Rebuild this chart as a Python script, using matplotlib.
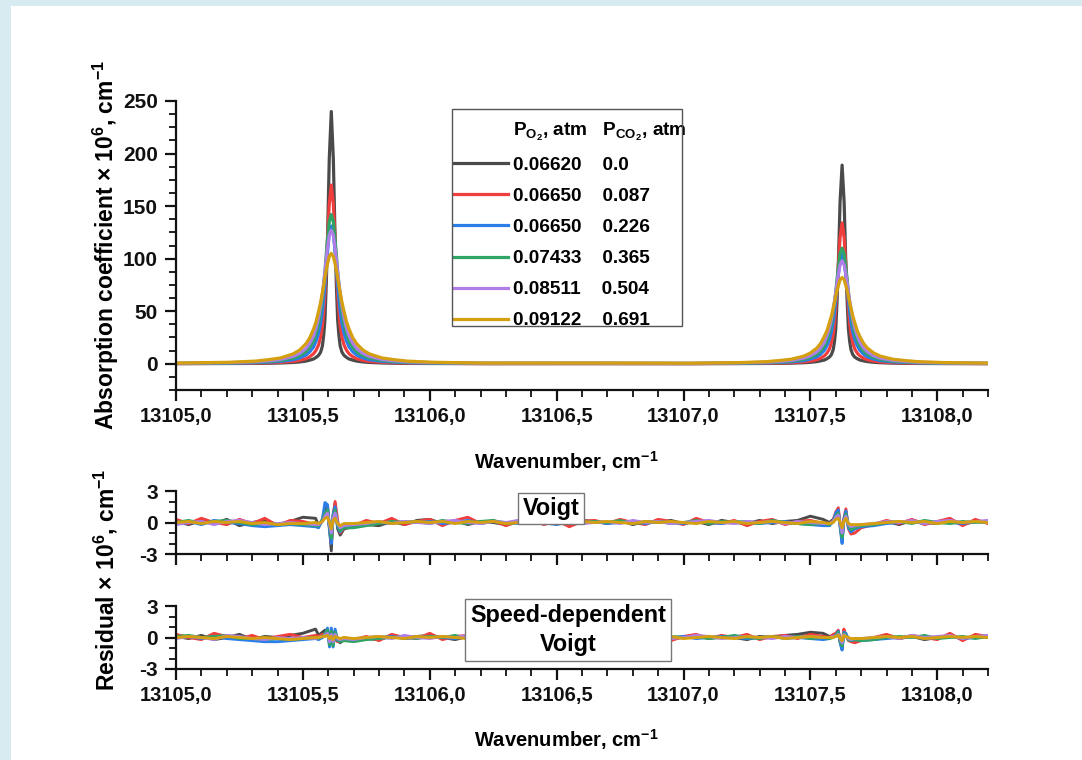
import numpy as np
import matplotlib
matplotlib.use("Agg")
import matplotlib.pyplot as plt
from matplotlib.ticker import MultipleLocator, FuncFormatter
from matplotlib.lines import Line2D
from matplotlib.patches import Rectangle

plt.rcParams.update({
    'font.family': ['Liberation Sans', 'DejaVu Sans'],
    'font.weight': 'bold',
    'mathtext.fontset': 'custom',
    'mathtext.rm': 'Liberation Sans:bold',
    'mathtext.it': 'Liberation Sans:bold',
    'mathtext.bf': 'Liberation Sans:bold',
    'axes.unicode_minus': False,
})

# ---------------- data ----------------
p_o2 = ["0.06620", "0.06650", "0.06650", "0.07433", "0.08511", "0.09122"]
p_co2 = ["0.0", "0.087", "0.226", "0.365", "0.504", "0.691"]
colors = ["#4a4a4a", "#f23d3d", "#2b7de9", "#2fa565", "#b07ee8", "#d4a00f"]

line_centers = [13105.612, 13107.625]
peak_offsets = [-0.6, -0.4, -0.3, -0.25, -0.2, -0.15, -0.125, -0.1, -0.085, -0.07, -0.06, -0.05,
                -0.042, -0.035, -0.03, -0.025, -0.02, -0.015, -0.008, 0.0,
                0.008, 0.015, 0.02, 0.025, 0.03, 0.035, 0.042, 0.05, 0.06, 0.07, 0.085, 0.1,
                0.125, 0.15, 0.2, 0.25, 0.3, 0.4, 0.6]
x_start, x_mid = 13105.0, 13106.62

far_vals = [0.1, 0.15, 0.25, 0.35, 0.45, 0.6]
mid_vals = [0.1, 0.15, 0.3, 0.4, 0.5, 0.7]

peak1 = [
    [0.1, 0.2, 0.3, 0.45, 0.7, 1.2, 1.7, 2.5, 3.4, 4.5, 6, 8, 11, 17, 27, 42, 75, 118, 195, 240,
     195, 118, 75, 42, 27, 17, 11, 8, 6, 4.5, 3.4, 2.5, 1.7, 1.2, 0.7, 0.45, 0.3, 0.2, 0.1],
    [0.15, 0.35, 0.6, 0.9, 1.3, 2.2, 3.2, 4.8, 6.6, 9.5, 12.8, 18, 25.5, 36, 49, 66, 92, 118, 152, 170,
     152, 118, 92, 66, 49, 36, 25.5, 18, 12.8, 9.5, 6.6, 4.8, 3.2, 2.2, 1.3, 0.9, 0.6, 0.35, 0.15],
    [0.25, 0.55, 1.0, 1.5, 2.2, 3.8, 5.5, 8.2, 11.3, 16, 21.5, 29, 38.5, 50, 62, 75, 91, 106, 124, 131,
     124, 106, 91, 75, 62, 50, 38.5, 29, 21.5, 16, 11.3, 8.2, 5.5, 3.8, 2.2, 1.5, 1.0, 0.55, 0.25],
    [0.35, 0.8, 1.4, 2.0, 3.1, 5.4, 7.7, 11.5, 15.5, 21.5, 28.5, 38, 49, 62, 75, 88, 104, 118, 135, 142,
     135, 118, 104, 88, 75, 62, 49, 38, 28.5, 21.5, 15.5, 11.5, 7.7, 5.4, 3.1, 2.0, 1.4, 0.8, 0.35],
    [0.47, 1.05, 1.9, 2.7, 4.1, 7, 9.8, 14.5, 19.5, 26.5, 34, 44, 55, 67, 77, 88, 99, 110, 122, 127,
     122, 110, 99, 88, 77, 67, 55, 44, 34, 26.5, 19.5, 14.5, 9.8, 7, 4.1, 2.7, 1.9, 1.05, 0.47],
    [0.65, 1.4, 2.5, 3.8, 5.5, 9.4, 13, 19, 24.6, 33, 40, 50, 58.5, 68, 74.5, 82, 89, 95, 102, 105,
     102, 95, 89, 82, 74.5, 68, 58.5, 50, 40, 33, 24.6, 19, 13, 9.4, 5.5, 3.8, 2.5, 1.4, 0.65],
]
peak2 = [
    [0.08, 0.15, 0.25, 0.35, 0.55, 0.95, 1.35, 2, 2.7, 3.5, 4.7, 6.3, 8.7, 13.4, 21, 33, 59, 93, 154, 189,
     154, 93, 59, 33, 21, 13.4, 8.7, 6.3, 4.7, 3.5, 2.7, 2, 1.35, 0.95, 0.55, 0.35, 0.25, 0.15, 0.08],
    [0.12, 0.27, 0.47, 0.7, 1.0, 1.7, 2.5, 3.8, 5.2, 7.5, 10, 14, 20, 28, 38.5, 52, 72, 93, 120, 134,
     120, 93, 72, 52, 38.5, 28, 20, 14, 10, 7.5, 5.2, 3.8, 2.5, 1.7, 1.0, 0.7, 0.47, 0.27, 0.12],
    [0.2, 0.44, 0.8, 1.2, 1.75, 3, 4.4, 6.5, 9, 12.7, 17, 23, 30.5, 40, 49, 60, 72, 84, 98, 104,
     98, 84, 72, 60, 49, 40, 30.5, 23, 17, 12.7, 9, 6.5, 4.4, 3, 1.75, 1.2, 0.8, 0.44, 0.2],
    [0.27, 0.62, 1.1, 1.55, 2.4, 4.2, 6, 8.9, 12, 16.7, 22, 29.5, 38, 48, 58, 68, 80.5, 91, 105, 110,
     105, 91, 80.5, 68, 58, 48, 38, 29.5, 22, 16.7, 12, 8.9, 6, 4.2, 2.4, 1.55, 1.1, 0.62, 0.27],
    [0.36, 0.8, 1.5, 2.1, 3.2, 5.4, 7.6, 11.2, 15, 20.5, 26.5, 34, 42.5, 52, 59.5, 68, 76.5, 85, 94, 98,
     94, 85, 76.5, 68, 59.5, 52, 42.5, 34, 26.5, 20.5, 15, 11.2, 7.6, 5.4, 3.2, 2.1, 1.5, 0.8, 0.36],
    [0.5, 1.1, 1.95, 3, 4.3, 7.3, 10.2, 14.8, 19.2, 26, 31.2, 39, 45.7, 53, 58.2, 64, 69.5, 74, 80, 82,
     80, 74, 69.5, 64, 58.2, 53, 45.7, 39, 31.2, 26, 19.2, 14.8, 10.2, 7.3, 4.3, 3, 1.95, 1.1, 0.5],
]

# residual wavenumber grid (coarse away from the lines, fine across them)
res_fine1 = [13105.562, 13105.577, 13105.587, 13105.597, 13105.605, 13105.612,
             13105.619, 13105.627, 13105.637, 13105.647, 13105.662]
res_fine2 = [13107.575, 13107.590, 13107.600, 13107.610, 13107.618, 13107.625,
             13107.632, 13107.640, 13107.650, 13107.660, 13107.675]
res_x = np.concatenate([np.linspace(13105.00, 13105.55, 12), res_fine1,
                        np.linspace(13105.70, 13107.55, 38), res_fine2,
                        np.linspace(13107.70, 13108.20, 11)])

res_voigt = [
    [0.1, -0.2, 0.2, -0.1, 0.3, -0.3, 0.0, 0.2, -0.2, 0.1, 0.5, 0.4,
     -0.3, 0.3, 1.2, 1.6, -0.5, -2.7, 0.6, 1.8, -0.6, -1.2, -0.6,
     -0.4, -0.2, -0.3, 0.1, -0.2, 0.2, 0.3, -0.1, 0.2, -0.2, 0.1, 0.0, -0.2, 0.2, -0.1, 0.1, 0.0, -0.2, 0.2,
     0.1, -0.1, 0.2, -0.2, 0.1, 0.0, 0.2, -0.1, 0.1, -0.2, 0.2, 0.0, -0.1, 0.2, -0.1, 0.1, 0.2, 0.6, 0.3,
     0.0, 0.3, 0.8, 1.0, -0.4, -1.7, 0.2, 0.9, -0.3, -0.7, -0.4,
     -0.3, -0.2, 0.1, -0.2, 0.2, 0.0, -0.1, 0.2, -0.2, 0.1, 0.0],
    [0.3, -0.1, 0.4, 0.0, -0.2, 0.3, -0.1, 0.4, -0.3, 0.2, 0.1, -0.2,
     -0.4, 0.2, 0.8, 1.2, -0.6, -1.9, 0.5, 2.0, 0.2, -1.0, -0.5,
     -0.3, 0.2, -0.1, 0.4, -0.2, 0.1, 0.3, -0.3, 0.2, 0.5, -0.1, 0.2, -0.3, 0.1, 0.3, -0.2, 0.2, -0.4, 0.1,
     0.2, -0.1, 0.3, 0.0, -0.2, 0.3, 0.1, -0.2, 0.4, 0.0, -0.1, 0.2, -0.3, 0.1, 0.3, -0.2, 0.1, 0.2, -0.1,
     -0.2, 0.2, 1.0, 1.4, -0.3, -1.5, 0.4, 1.3, -0.6, -1.1, -1.0,
     -0.5, -0.2, 0.2, -0.1, 0.3, -0.2, 0.1, 0.4, -0.3, 0.3, -0.1],
    [-0.1, 0.1, -0.2, 0.2, 0.0, -0.1, -0.3, -0.4, -0.3, -0.2, -0.3, -0.4,
     -0.5, 0.3, 1.9, 1.7, -0.8, -2.0, 0.8, 1.5, -0.4, -0.9, -0.4,
     -0.3, -0.2, 0.0, -0.1, 0.1, 0.0, 0.1, -0.1, 0.0, 0.2, -0.1, 0.1, 0.0, -0.1, 0.1, 0.0, -0.2, 0.1, 0.0,
     0.1, -0.1, 0.0, 0.1, -0.1, 0.1, 0.0, -0.1, 0.1, 0.0, -0.1, 0.1, 0.0, -0.1, 0.0, 0.1, -0.1, -0.2, -0.3,
     -0.3, 0.1, 0.9, 1.2, -0.6, -2.0, 0.3, 1.1, -0.5, -0.9, -0.6,
     -0.4, -0.3, -0.1, 0.0, 0.1, -0.1, 0.1, 0.0, -0.1, 0.1, 0.0],
    [0.0, 0.2, -0.1, 0.1, 0.2, 0.0, -0.2, -0.1, -0.2, -0.1, -0.2, -0.3,
     -0.3, 0.2, 0.9, 1.2, -0.4, -1.5, 0.5, 1.2, -0.2, -0.8, -0.5,
     -0.5, -0.3, -0.1, 0.1, 0.0, 0.1, -0.1, 0.2, 0.0, -0.1, 0.1, 0.2, -0.1, 0.0, 0.1, -0.1, 0.2, 0.0, -0.1,
     0.1, 0.0, 0.2, -0.1, 0.0, 0.1, -0.1, 0.0, 0.2, -0.1, 0.1, 0.0, 0.1, -0.1, 0.2, 0.0, -0.1, -0.2, -0.1,
     -0.2, 0.1, 0.6, 0.9, -0.4, -1.4, 0.2, 0.8, -0.3, -0.7, -0.5,
     -0.3, -0.2, 0.0, 0.1, -0.1, 0.2, 0.0, -0.1, 0.1, 0.0, 0.1],
    [-0.2, 0.0, 0.1, -0.2, 0.1, 0.2, 0.0, -0.2, -0.1, 0.0, -0.1, -0.2,
     -0.2, 0.1, 0.6, 0.9, -0.2, -1.0, 0.4, 0.9, -0.1, -0.5, -0.3,
     -0.2, -0.1, 0.1, -0.1, 0.1, 0.0, -0.1, 0.1, 0.2, 0.0, -0.1, 0.1, 0.0, 0.2, -0.1, 0.0, 0.1, 0.3, -0.1,
     0.0, 0.1, -0.1, 0.2, 0.0, 0.1, -0.1, 0.0, 0.1, 0.2, 0.0, -0.1, 0.1, 0.0, 0.1, -0.1, 0.1, 0.0, -0.1,
     -0.1, 0.1, 0.5, 0.7, -0.2, -1.0, 0.2, 0.6, -0.2, -0.4, -0.3,
     -0.2, -0.1, 0.1, 0.0, 0.2, -0.1, 0.1, 0.2, 0.0, 0.1, 0.2],
    [0.0, 0.1, -0.1, 0.1, 0.0, 0.1, -0.1, 0.0, -0.2, -0.1, -0.1, 0.0,
     -0.1, 0.1, 0.4, 0.5, 0.0, -0.6, 0.2, 0.4, -0.1, -0.3, -0.1,
     -0.1, 0.0, 0.1, -0.1, 0.0, 0.1, 0.0, 0.1, -0.1, 0.1, 0.0, 0.1, -0.1, 0.0, 0.1, 0.0, 0.1, -0.1, 0.1,
     0.0, 0.1, 0.0, -0.1, 0.1, 0.0, 0.1, 0.0, -0.1, 0.1, 0.0, 0.1, -0.1, 0.0, 0.1, 0.0, -0.1, 0.1, 0.0,
     -0.1, 0.0, 0.3, 0.4, 0.0, -0.5, 0.1, 0.4, -0.1, -0.2, -0.2,
     -0.2, -0.1, 0.0, 0.1, 0.0, 0.1, -0.1, 0.1, 0.0, 0.1, 0.0],
]

res_sdv = [
    [0.1, -0.1, 0.2, -0.2, 0.0, 0.3, -0.2, 0.1, 0.0, 0.2, 0.4, 0.8,
     0.2, 0.5, 0.7, 0.3, -0.3, -0.4, 0.3, 0.2, -0.3, -0.5, -0.2,
     -0.3, -0.1, -0.2, 0.2, -0.1, 0.1, 0.2, 0.0, -0.2, 0.1, 0.2, -0.1, 0.0, 0.2, -0.2, 0.1, -0.1, 0.0, 0.2,
     -0.1, 0.1, 0.0, -0.2, 0.2, 0.1, -0.1, 0.0, 0.2, -0.1, 0.1, 0.0, -0.2, 0.1, 0.0, 0.2, 0.3, 0.5, 0.4,
     0.1, 0.2, 0.3, 0.5, -0.4, -1.0, 0.6, 0.3, -0.2, -0.3, -0.2,
     -0.2, -0.1, 0.2, -0.1, 0.1, -0.2, 0.0, 0.2, -0.1, 0.1, 0.0],
    [0.3, 0.0, -0.2, 0.4, 0.1, -0.1, 0.2, -0.2, 0.1, 0.3, 0.0, 0.2,
     0.1, 0.3, 0.2, 0.5, -0.5, -0.3, 0.5, -0.2, -0.4, -0.3, 0.0,
     -0.2, 0.1, -0.3, 0.3, 0.0, -0.1, 0.4, -0.2, 0.1, 0.2, -0.3, 0.1, 0.3, -0.1, 0.2, 0.0, -0.2, 0.3, 0.1,
     -0.2, 0.2, 0.4, -0.1, 0.0, 0.2, -0.3, 0.1, 0.3, -0.1, 0.2, 0.0, 0.3, -0.2, 0.1, 0.2, -0.1, 0.3, 0.1,
     0.0, 0.3, 0.4, 0.7, -0.5, -0.6, 0.8, 0.2, -0.3, -0.4, -0.5,
     -0.3, 0.0, 0.3, -0.1, 0.2, 0.0, -0.2, 0.4, -0.3, 0.3, 0.1],
    [0.0, 0.1, -0.1, 0.1, -0.1, -0.2, -0.3, -0.4, -0.4, -0.3, -0.2, -0.1,
     -0.2, 0.0, 0.2, 0.9, -0.9, 0.9, -0.9, 0.8, -0.3, -0.2, -0.1,
     -0.2, -0.1, 0.0, 0.1, -0.1, 0.0, 0.1, 0.0, -0.1, 0.1, 0.0, -0.1, 0.1, 0.0, 0.1, -0.1, 0.0, 0.1, 0.0,
     -0.1, 0.0, 0.1, 0.0, -0.1, 0.1, 0.0, 0.1, -0.1, 0.0, 0.1, 0.0, -0.1, 0.0, 0.1, -0.1, 0.0, -0.1, -0.2,
     -0.1, 0.1, 0.2, 0.6, -0.6, -1.2, 0.5, 0.4, -0.2, -0.3, -0.2,
     -0.3, -0.2, -0.1, 0.0, 0.1, -0.1, 0.0, 0.1, -0.1, 0.0, 0.1],
    [0.1, 0.2, 0.0, 0.1, 0.2, -0.1, -0.1, -0.2, -0.1, -0.2, -0.1, 0.0,
     -0.1, 0.1, 0.3, 0.7, -0.7, 0.6, -0.8, 0.5, -0.2, -0.4, -0.3,
     -0.4, -0.2, -0.1, 0.0, 0.1, -0.1, 0.1, 0.0, 0.2, -0.1, 0.0, 0.1, -0.1, 0.1, 0.0, 0.2, -0.1, 0.0, 0.1,
     0.0, -0.1, 0.1, 0.2, 0.0, -0.1, 0.1, 0.0, 0.1, -0.1, 0.0, 0.2, 0.0, -0.1, 0.1, 0.0, 0.1, -0.1, 0.0,
     -0.1, 0.0, 0.2, 0.5, -0.4, -0.8, 0.4, 0.2, -0.2, -0.3, -0.2,
     -0.3, -0.2, 0.0, 0.1, 0.0, 0.2, -0.1, 0.0, 0.1, -0.1, 0.1],
    [-0.1, 0.1, 0.0, -0.2, 0.2, 0.1, -0.1, -0.2, 0.0, -0.1, 0.0, -0.1,
     0.0, 0.1, 0.2, 0.4, -0.4, 0.3, -0.4, 0.3, -0.1, -0.2, -0.1,
     -0.2, 0.0, 0.1, -0.1, 0.2, 0.0, -0.1, 0.1, 0.0, 0.2, -0.1, 0.0, 0.1, 0.3, -0.1, 0.1, 0.0, 0.1, -0.1,
     0.0, 0.2, -0.1, 0.1, 0.0, 0.1, -0.1, 0.0, 0.2, 0.1, -0.1, 0.0, 0.1, 0.0, -0.1, 0.1, 0.0, 0.1, 0.0,
     0.0, 0.1, 0.1, 0.3, -0.2, -0.5, 0.3, 0.1, -0.1, -0.2, -0.1,
     -0.1, 0.0, 0.1, -0.1, 0.2, 0.0, 0.1, 0.2, -0.1, 0.1, 0.2],
    [0.0, 0.1, 0.0, -0.1, 0.1, 0.0, -0.1, 0.0, -0.1, -0.2, -0.1, 0.0,
     0.0, 0.1, 0.1, 0.2, -0.1, 0.1, -0.2, 0.1, 0.0, -0.1, 0.0,
     -0.1, 0.0, 0.1, 0.0, -0.1, 0.1, 0.0, 0.1, 0.0, -0.1, 0.1, 0.0, 0.1, -0.1, 0.0, 0.1, 0.0, -0.1, 0.1,
     0.0, 0.1, -0.1, 0.0, 0.1, 0.0, 0.1, -0.1, 0.0, 0.1, 0.0, -0.1, 0.1, 0.0, 0.1, -0.1, 0.0, 0.1, 0.0,
     0.0, 0.0, 0.1, 0.2, -0.1, -0.3, 0.2, 0.1, 0.0, -0.1, -0.1,
     -0.1, 0.0, 0.1, 0.0, 0.1, -0.1, 0.0, 0.1, 0.0, 0.1, 0.0],
]

# ---------------- figure ----------------
W, H = 1082, 760
fig = plt.figure(figsize=(W / 100, H / 100), dpi=100)
fig.patch.set_facecolor("white")
fig.patches.append(Rectangle((0, 1 - 6 / H), 1, 6 / H, transform=fig.transFigure,
                             facecolor="#d8ebf1", edgecolor="none", zorder=-5))
fig.patches.append(Rectangle((0, 0), 11 / W, 1, transform=fig.transFigure,
                             facecolor="#d8ebf1", edgecolor="none", zorder=-5))


def fbox(x0, y0, x1, y1):
    return [x0 / W, 1 - y1 / H, (x1 - x0) / W, (y1 - y0) / H]


ax = fig.add_axes(fbox(176, 101, 988, 390))
ax_v = fig.add_axes(fbox(176, 491, 988, 554))
ax_s = fig.add_axes(fbox(176, 606, 988, 669))

comma_fmt = FuncFormatter(lambda v, p: f"{v:.1f}".replace(".", ","))

for a in (ax, ax_v, ax_s):
    a.set_facecolor("none")
    for s in ("top", "right"):
        a.spines[s].set_visible(False)
    for s in ("left", "bottom"):
        a.spines[s].set_linewidth(1.6)
        a.spines[s].set_color("#111111")
    a.tick_params(which="major", direction="out", length=8, width=1.6,
                  colors="#111111", pad=4)
    a.tick_params(which="minor", direction="out", length=5, width=1.3, colors="#111111")
    a.tick_params(axis="x", labelsize=14.5)
    a.tick_params(axis="y", labelsize=15, pad=5)
    a.set_xlim(13105.0, 13108.2)
    a.xaxis.set_major_locator(MultipleLocator(0.5))
    a.xaxis.set_minor_locator(MultipleLocator(0.1))
    a.xaxis.set_major_formatter(comma_fmt)

ax.set_ylim(-25, 250)
ax.yaxis.set_major_locator(MultipleLocator(50))
ax.yaxis.set_minor_locator(MultipleLocator(12.5))

for a in (ax_v, ax_s):
    a.set_ylim(-3, 3)
    a.yaxis.set_major_locator(MultipleLocator(3))
    a.yaxis.set_minor_locator(MultipleLocator(1))
ax_v.tick_params(labelbottom=False)

# main spectra
off = np.array(peak_offsets)
main_x = np.concatenate([[x_start], line_centers[0] + off, [x_mid], line_centers[1] + off])
handles = [Line2D([], [], color="none")]
labels = [r"P$_{\mathregular{O_2}}$, atm   P$_{\mathregular{CO_2}}$, atm"]
for i in range(6):
    y = np.concatenate([[far_vals[i]], peak1[i], [mid_vals[i]], peak2[i]])
    ln, = ax.plot(main_x, y, color=colors[i], lw=2.3, solid_joinstyle="round")
    handles.append(ln)
    labels.append(f"{p_o2[i]}    {p_co2[i]}")

leg = ax.legend(handles, labels, loc="upper left", bbox_to_anchor=(454 / W, 1 - 121 / H),
                bbox_transform=fig.transFigure, borderaxespad=0, borderpad=0, fontsize=13.7,
                handlelength=2.84, handletextpad=0.26, labelspacing=0.72, frameon=False)
fig.patches.append(Rectangle((452 / W, 1 - 326 / H), 230 / W, 217 / H, transform=fig.transFigure,
                             fill=False, edgecolor="#555555", linewidth=1.0, zorder=3))

# residuals
for i in range(6):
    ax_v.plot(res_x, res_voigt[i], color=colors[i], lw=2.1)
    ax_s.plot(res_x, res_sdv[i], color=colors[i], lw=2.1)

ax_v.text(13106.478, 1.36, "Voigt", ha="center", va="center", fontsize=16.8, fontweight="bold",
          zorder=10, bbox=dict(boxstyle="square,pad=0.18", fc="white", ec="#777777", lw=1.0))
ax_s.text(13106.545, 0.72, "Speed-dependent\nVoigt", ha="center", va="center",
          multialignment="center", fontsize=16.8, fontweight="bold", linespacing=1.35, zorder=10,
          bbox=dict(boxstyle="square,pad=0.2", fc="white", ec="#777777", lw=1.0))

# axis titles
fig.text(106 / W, 1 - 245 / H, r"Absorption coefficient $\times$ 10$^{6}$, cm$^{-1}$",
         rotation=90, ha="center", va="center", fontsize=16.5, fontweight="bold")
fig.text(106 / W, 1 - 580 / H, r"Residual $\times$ 10$^{6}$, cm$^{-1}$",
         rotation=90, ha="center", va="center", fontsize=16.5, fontweight="bold")
fig.text(566 / W, 1 - 462 / H, r"Wavenumber, cm$^{-1}$", ha="center", va="center",
         fontsize=14.5, fontweight="bold")
fig.text(566 / W, 1 - 740 / H, r"Wavenumber, cm$^{-1}$", ha="center", va="center",
         fontsize=14.5, fontweight="bold")

fig.savefig("out.png", dpi=100)
